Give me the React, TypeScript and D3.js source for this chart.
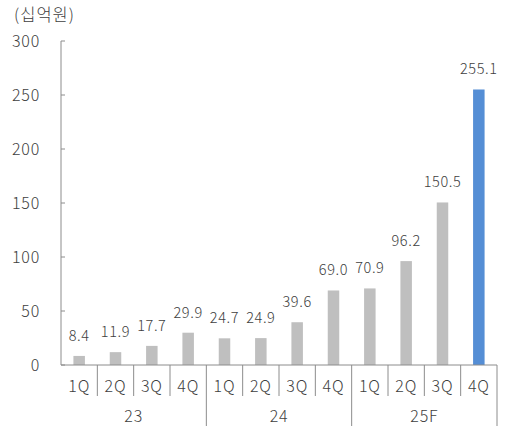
import React from "react";
import * as d3 from "d3";

const quarters = ["1Q", "2Q", "3Q", "4Q", "1Q", "2Q", "3Q", "4Q", "1Q", "2Q", "3Q", "4Q"];
const years = ["23", "24", "25F"];
const values = [8.4, 11.9, 17.7, 29.9, 24.7, 24.9, 39.6, 69.0, 70.9, 96.2, 150.5, 255.1];
const yTicks = [0, 50, 100, 150, 200, 250, 300];
const unitLabel = "(십억원)";

const W = 507;
const H = 426;
const left = 61;
const right = 497;
const top = 41;
const bottom = 365;
const font = "'Noto Sans CJK KR', 'Noto Sans', sans-serif";
const textColor = "#404040";
const axisColor = "#8c8c8c";

export default function App() {
  const idx = values.map((_, i) => i);
  const x = d3.scaleBand<number>().domain(idx).range([left, right]).paddingInner(0).paddingOuter(0);
  const y = d3.scaleLinear().domain([0, 300]).range([bottom, top]);
  const bw = 11.5;
  const step = x.bandwidth();

  return (
    <svg width={W} height={H} style={{ position: "absolute", left: 0, top: 0 }}>
      <rect width={W} height={H} fill="#fff" />
      <text x={14} y={21} fontFamily={font} fontSize={16.5} fontWeight={300} letterSpacing={1} fill={textColor}>
        {unitLabel}
      </text>
      {/* y axis */}
      <line x1={left} x2={left} y1={top} y2={bottom} stroke={axisColor} strokeWidth={1} />
      {yTicks.map((t) => (
        <g key={t}>
          <line x1={left} x2={left + 4} y1={y(t)} y2={y(t)} stroke={axisColor} />
          <text
            x={40}
            y={y(t)}
            dy="0.35em"
            textAnchor="end"
            fontFamily={font}
            fontSize={16}
            fontWeight={300}
            letterSpacing={0.8}
            fill={textColor}
          >
            {t}
          </text>
        </g>
      ))}
      {/* bars */}
      {values.map((v, i) => {
        const cx = (x(i) as number) + step / 2;
        return (
          <g key={i}>
            <rect
              x={cx - bw / 2}
              y={y(v)}
              width={bw}
              height={bottom - y(v)}
              fill={i === values.length - 1 ? "#558ED5" : "#BFBFBF"}
            />
            <text
              x={cx}
              y={y(v) - 15}
              textAnchor="middle"
              fontFamily={font}
              fontSize={14.5}
              fontWeight={300}
              letterSpacing={0.6}
              fill={textColor}
            >
              {v.toFixed(1)}
            </text>
          </g>
        );
      })}
      {/* x axis */}
      <line x1={left} x2={right} y1={bottom} y2={bottom} stroke={axisColor} strokeWidth={1} />
      {idx.map((i) => {
        const xl = (x(i) as number) + step;
        const isGroup = (i + 1) % 4 === 0;
        return (
          <line key={"s" + i} x1={xl} x2={xl} y1={bottom} y2={isGroup ? H : 396} stroke={axisColor} />
        );
      })}
      {quarters.map((q, i) => (
        <text
          key={"q" + i}
          x={(x(i) as number) + step / 2}
          y={386}
          dy="0.35em"
          textAnchor="middle"
          fontFamily={font}
          fontSize={16}
          fontWeight={300}
          letterSpacing={0.8}
          fill={textColor}
        >
          {q}
        </text>
      ))}
      {years.map((yr, g) => (
        <text
          key={"y" + yr}
          x={(x(g * 4) as number) + step * 2}
          y={416}
          dy="0.35em"
          textAnchor="middle"
          fontFamily={font}
          fontSize={16}
          fontWeight={300}
          letterSpacing={0.8}
          fill={textColor}
        >
          {yr}
        </text>
      ))}
    </svg>
  );
}
